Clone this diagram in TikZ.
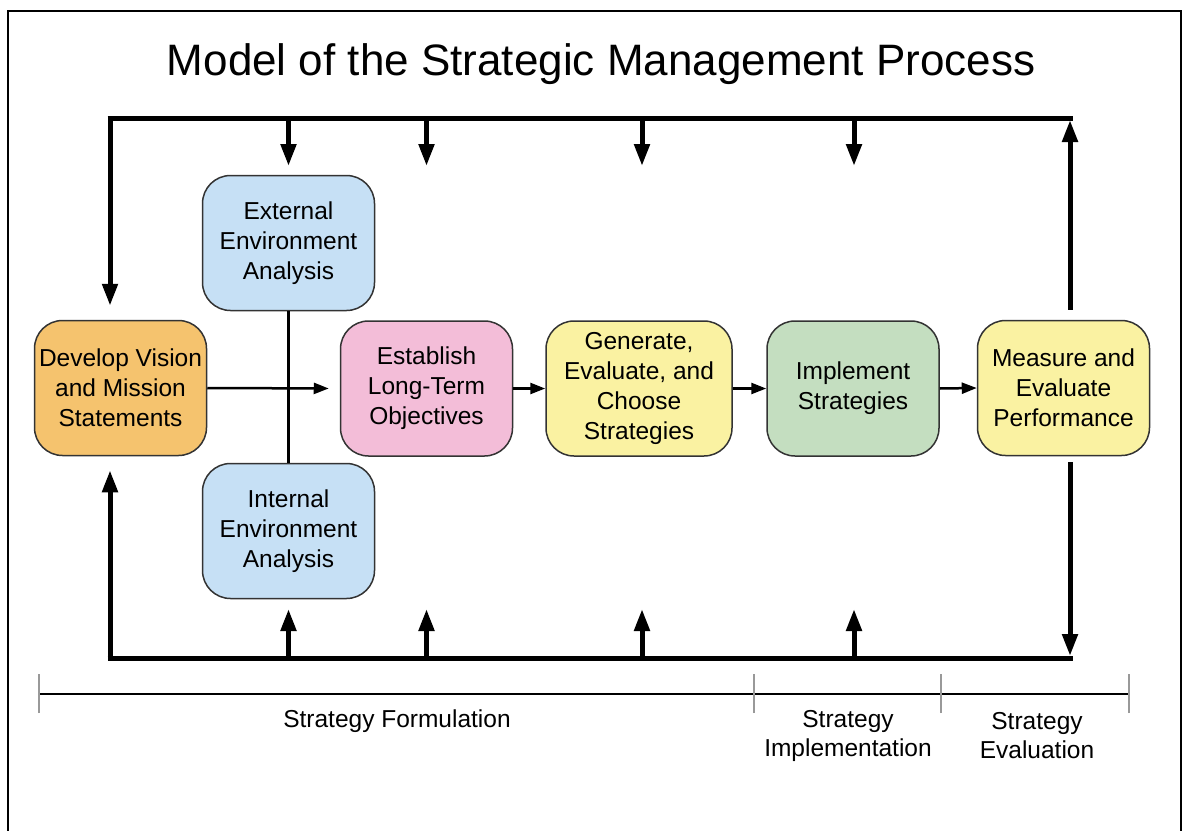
\documentclass[tikz,border=0pt]{standalone}
\usepackage{fontspec}
\setmainfont{Liberation Sans}
\usetikzlibrary{arrows.meta}
\definecolor{visionfill}{HTML}{F5C36E}
\definecolor{envfill}{HTML}{C6E0F5}
\definecolor{objfill}{HTML}{F3BDD8}
\definecolor{stratfill}{HTML}{FAF2A2}
\definecolor{implfill}{HTML}{C4DEC0}
\definecolor{boxline}{HTML}{333333}
\definecolor{tickgray}{HTML}{999999}
\tikzset{
  stage/.style={draw=boxline, line width=1.5pt, rounded corners=28pt,
    minimum width=172pt, minimum height=135pt, align=center,
    font=\fontsize{24.5}{30}\selectfont, inner sep=1pt},
  loopline/.style={line width=5pt, line cap=butt},
  looparrow/.style={line width=5pt, -{Triangle[length=22pt,width=15pt]}},
  flow/.style={line width=2.5pt, -{Triangle[length=15pt,width=11pt]}},
  phase/.style={font=\fontsize{24.5}{29.5}\selectfont, align=center},
  tick/.style={draw=tickgray, line width=2pt},
}
\begin{document}
\begin{tikzpicture}[x=1pt,y=-1pt]
\useasboundingbox (0,0) rectangle (1183,830);
% outer frame, open at the bottom
\draw[line width=2pt] (8,840) -- (8,11) -- (1181,11) -- (1181,840);

% title
\node[font=\fontsize{44}{50}\selectfont] (title) at (601,64) {Model of the Strategic Management Process};

% process stages
\node[stage, fill=visionfill] (dev) at (120.5,388) {Develop Vision\\and Mission\\Statements};
\node[stage, fill=envfill] (ext) at (288.5,243) {External\\Environment\\Analysis};
\node[stage, fill=envfill] (int) at (288.5,531) {Internal\\Environment\\Analysis};
\node[stage, fill=objfill] (est) at (426.5,388.5) {Establish\\Long-Term\\Objectives};
\node[stage, fill=stratfill, minimum width=186pt] (gen) at (639,388.5) {Generate,\\Evaluate, and\\Choose\\Strategies};
\node[stage, fill=implfill] (imp) at (853,388.5) {Implement\\Strategies};
\node[stage, fill=stratfill] (meas) at (1063.5,388) {Measure and\\Evaluate\\Performance};

% corners of the feedback loop and stopping levels of its arrows
\coordinate (TL) at (110,118);
\coordinate (TR) at (1070,118);
\coordinate (BL) at (110,658);
\coordinate (BR) at (1070,658);
\coordinate (topstop) at (0,166);
\coordinate (botstop) at (0,609);

% environment analyses joined by a vertical line
\draw[line width=2.5pt] (ext.south) -- (int.north);

% main flow
\draw[flow, shorten >=11pt] (dev.east) -- (est.west);
\draw[flow] (est.east) -- (gen.west);
\draw[flow] (gen.east) -- (imp.west);
\draw[flow] (imp.east) -- (meas.west);

% feedback loop
\draw[loopline] ([xshift=-2.5pt]TL) -- ([xshift=2.5pt]TR);
\draw[loopline] ([xshift=-2.5pt]BL) -- ([xshift=2.5pt]BR);
\draw[looparrow, shorten >=14pt] (TL) -- (dev.north -| TL);
\draw[looparrow, shorten >=14pt] (BL) -- (dev.south -| BL);
\draw[looparrow, shorten <=10pt] (meas.north -| TR) -- ([yshift=-2pt]TR);
\draw[looparrow, shorten <=6pt] (meas.south -| BR) -- ([yshift=2pt]BR);

\foreach \n/\dx in {ext/0, est/0, gen/3, imp/1}{
  \draw[looparrow] ([xshift=\dx pt]\n.center |- TL) -- ([xshift=\dx pt]\n.center |- topstop);
  \draw[looparrow] ([xshift=\dx pt]\n.center |- BL) -- ([xshift=\dx pt]\n.center |- botstop);
}

% phase scale
\coordinate (s0) at (39,694);
\coordinate (s1) at (754,694);
\coordinate (s2) at (941,694);
\coordinate (s3) at (1129,694);
\draw[line width=2.5pt] (s0) -- (s3);
\foreach \s in {s0,s1,s2,s3}{
  \draw[tick] ([yshift=-19pt]\s) -- ([yshift=20pt]\s);
}
\node[phase] (formulation) at (397,721) {Strategy Formulation};
\node[phase] (implementation) at (848,736) {Strategy\\Implementation};
\node[phase] (evaluation) at (1037,735.5) {Strategy\\Evaluation};
\end{tikzpicture}
\end{document}
